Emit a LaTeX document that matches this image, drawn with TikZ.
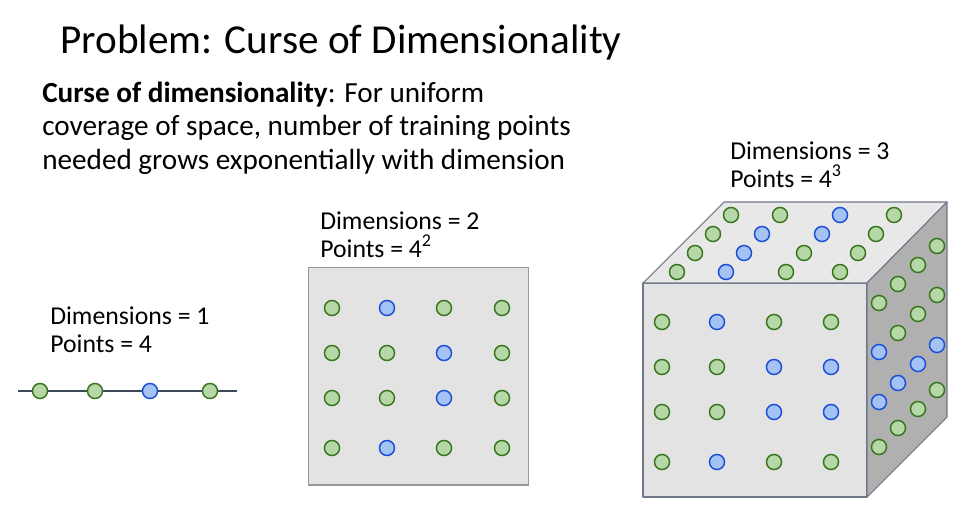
\documentclass[tikz,border=0pt]{standalone}
\usepackage{fontspec}
\setmainfont{Carlito}
\usepackage{tikz}
\usetikzlibrary{positioning, calc}

\definecolor{ptgreen}{HTML}{B6D7A8}
\definecolor{ptgreenedge}{HTML}{38761D}
\definecolor{ptblue}{HTML}{A4C2F4}
\definecolor{ptblueedge}{HTML}{1C4FD8}
\definecolor{axisline}{HTML}{3D4859}
\definecolor{faceedge}{HTML}{707888}

\begin{document}
\begin{tikzpicture}[
    x=0.75pt, y=-0.75pt,
    % Define styles
    greenpt/.style={circle, draw=ptgreenedge, fill=ptgreen, line width=1.1pt, minimum size=11.3pt, inner sep=0pt},
    bluept/.style={circle, draw=ptblueedge, fill=ptblue, line width=1.1pt, minimum size=11.3pt, inner sep=0pt},
    titletext/.style={anchor=base west, inner sep=0pt, font=\fontsize{30.9pt}{36pt}\selectfont},
    bodytext/.style={anchor=base west, inner sep=0pt, font=\fontsize{21.9pt}{26pt}\selectfont},
    labeltext/.style={anchor=base west, inner sep=0pt, font=\fontsize{19.3pt}{23pt}\selectfont},
    face/.style={draw=faceedge, line width=0.8pt, line join=round}
]
    \useasboundingbox (0,0) rectangle (971,507);

    % 1. Title and explanation
    \node[titletext] (title) at (60,53) {Problem: Curse of Dimensionality};
    \node[bodytext] (bodyA) at (42,102) {\textbf{Curse of dimensionality}: For uniform};
    \node[bodytext] (bodyB) at (42,135.5) {coverage of space, number of training points};
    \node[bodytext] (bodyC) at (42,169) {needed grows exponentially with dimension};

    % 2. One dimension
    \node[labeltext] (dimA) at (50,324) {Dimensions = 1};
    \node[labeltext] (ptsA) at (50,352) {Points = 4};
    \coordinate (lineL) at (18,391);
    \coordinate (lineR) at (237,391);
    \draw[axisline, line width=1.5pt] (lineL) -- (lineR);
    \foreach \x/\c [count=\i] in {40/green, 95/green, 150/blue, 210/green}
        \node[\c pt] (lin\i) at (\x,391) {};

    % 3. Two dimensions
    \node[labeltext] (dimB) at (320,229) {Dimensions = 2};
    \node[labeltext] (ptsB) at (320,257) {Points = 4\textsuperscript{2}};
    \node[rectangle, draw=black!40, line width=1.1pt, fill=black!11, minimum width=165pt, minimum height=163pt, anchor=north west, inner sep=0pt] (square) at (308,267) {};
    \foreach \y/\a/\b/\cc/\d [count=\r] in {308/green/blue/green/green, 353/green/green/blue/green, 398/green/green/blue/green, 448/green/blue/green/green}{
        \node[\a pt] (sq\r-1) at (332,\y) {};
        \node[\b pt] (sq\r-2) at (387,\y) {};
        \node[\cc pt] (sq\r-3) at (444,\y) {};
        \node[\d pt] (sq\r-4) at (502,\y) {};
    }

    % 4. Three dimensions
    \node[labeltext] (dimC) at (730,159) {Dimensions = 3};
    \node[labeltext] (ptsC) at (730,187) {Points = 4\textsuperscript{3}};
    \coordinate (fTL) at (643,283);
    \coordinate (fTR) at (867,283);
    \coordinate (fBL) at (643,497);
    \coordinate (fBR) at (867,497);
    \coordinate (bTL) at (724,202);
    \coordinate (bTR) at (947,202);
    \coordinate (bBR) at (947,417);
    \draw[face, fill=black!11] (fTL) rectangle (fBR);
    \draw[face, fill=black!9] (fTL) -- (bTL) -- (bTR) -- (fTR) -- cycle;
    \draw[face, fill=black!31] (fTR) -- (bTR) -- (bBR) -- (fBR) -- cycle;

    % front face
    \foreach \y/\a/\b/\cc/\d [count=\r] in {322/green/blue/green/green, 367/green/green/blue/blue, 412/green/green/blue/blue, 462/green/blue/green/green}{
        \node[\a pt] (fr\r-1) at (662,\y) {};
        \node[\b pt] (fr\r-2) at (717,\y) {};
        \node[\cc pt] (fr\r-3) at (774,\y) {};
        \node[\d pt] (fr\r-4) at (831,\y) {};
    }
    % top face
    \foreach \j/\a/\b/\cc/\d in {0/green/blue/green/green, 1/green/blue/green/green, 2/green/blue/blue/green, 3/green/green/blue/green}{
        \node[\a pt] (tp\j-1) at (677+18*\j,272-19*\j) {};
        \node[\b pt] (tp\j-2) at (726+18*\j,272-19*\j) {};
        \node[\cc pt] (tp\j-3) at (786+18*\j,272-19*\j) {};
        \node[\d pt] (tp\j-4) at (840+18*\j,272-19*\j) {};
    }
    % side face
    \foreach \y/\a/\b/\cc/\d [count=\r] in {303/green/green/green/green, 352/blue/green/green/green, 402/blue/blue/blue/blue, 447/green/green/green/green}{
        \node[\a pt] (sd\r-1) at (879,\y) {};
        \node[\b pt] (sd\r-2) at (898,\y-19) {};
        \node[\cc pt] (sd\r-3) at (918,\y-38) {};
        \node[\d pt] (sd\r-4) at (937,\y-57) {};
    }

\end{tikzpicture}
\end{document}
